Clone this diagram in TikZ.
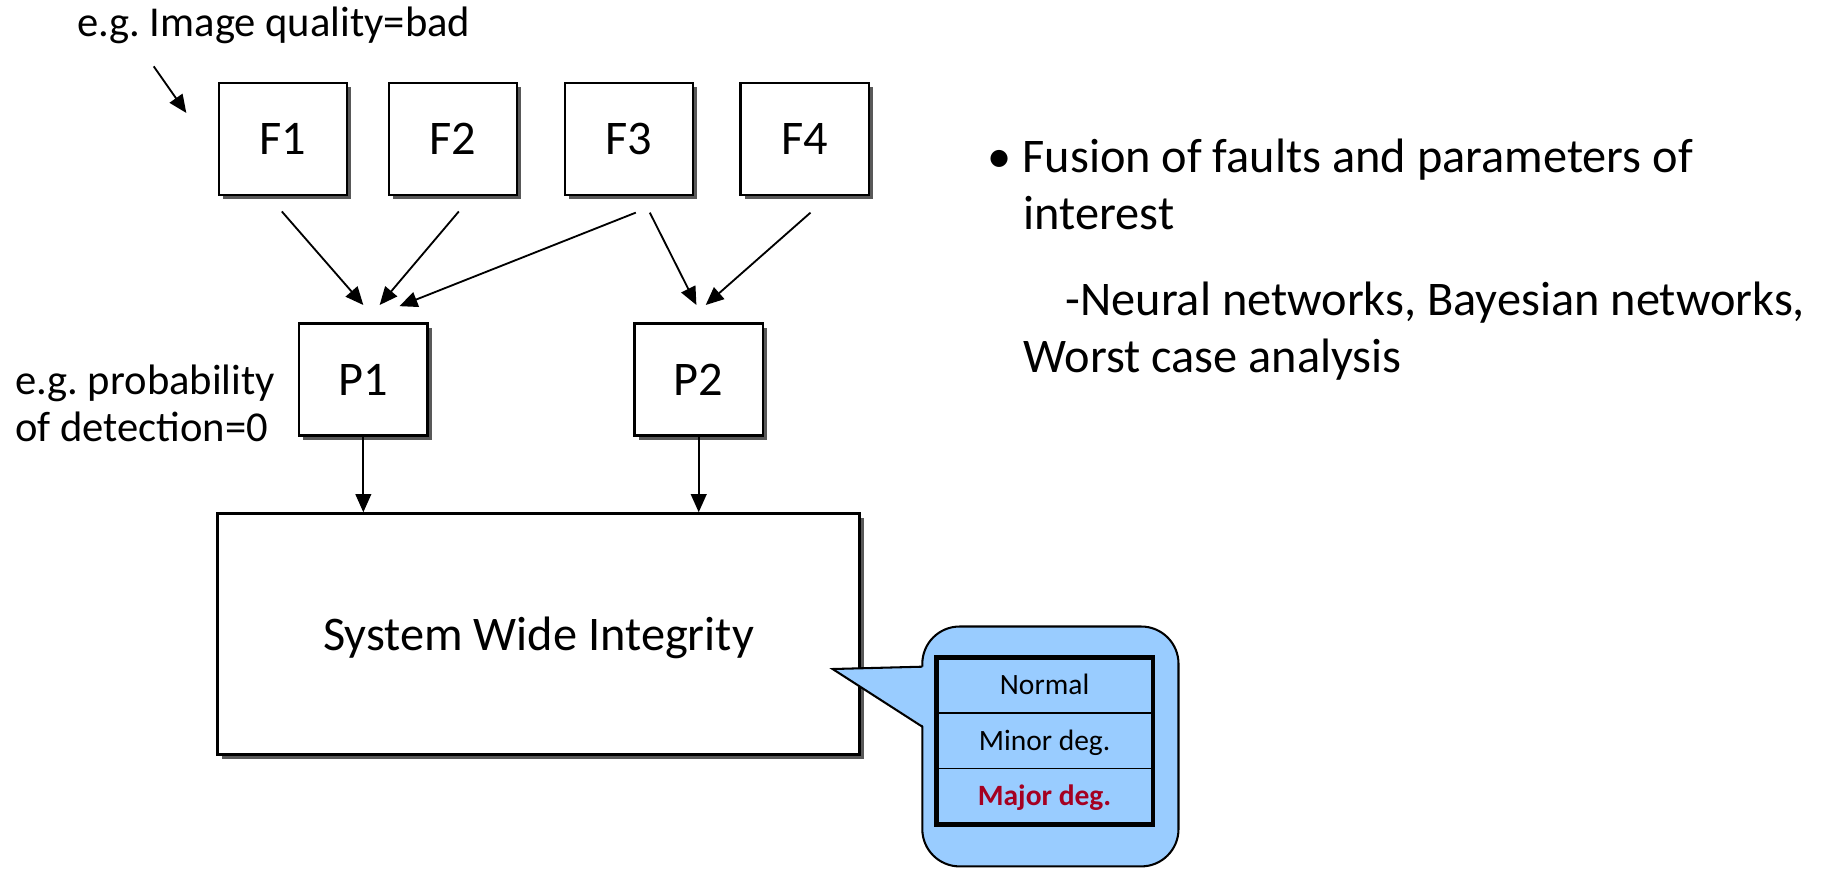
\documentclass[tikz,border=0pt]{standalone}
\usepackage{fontspec}
\setmainfont{Carlito}
\usepackage{xcolor}
\usepackage{tikz}
\usetikzlibrary{arrows.meta,shadows}
\usetikzlibrary{calc}
\usetikzlibrary{positioning}
\definecolor{bubble}{RGB}{153,204,255}
\definecolor{majred}{RGB}{165,0,33}
\frenchspacing

\begin{document}
\begin{tikzpicture}[x=0.01cm,y=-0.01cm,>={Triangle[length=4.4pt,width=3.8pt]},semithick]
  \tikzstyle{blk}=[draw, line width=0.6pt, fill=white, minimum width=1.1cm, minimum height=0.96cm, text depth=0pt, font=\fontsize{11.8}{14}\selectfont, drop shadow={shadow xshift=1pt, shadow yshift=-1pt, fill=black!65, opacity=1}]
  \tikzstyle{note}=[inner sep=0pt, font=\fontsize{10.4}{11.4}\selectfont]
  \tikzstyle{txt}=[inner sep=0pt, align=left, font=\fontsize{11.8}{14}\selectfont]
  \tikzstyle{cell}=[draw, line width=0.4pt, outer sep=0pt, inner sep=0pt, minimum width=1.86cm, minimum height=0.478cm, text height=4.5pt, text depth=0pt, font=\fontsize{7.2}{8}\selectfont]
  \tikzstyle{feed}=[->, line width=0.45pt]

  \useasboundingbox (0,0) rectangle (1568,746);

  % faults and parameters
  \foreach \n/\x in {1/243,2/389,3/540,4/691}
    \node[blk] (F\n) at (\x,119.5) {F\n};
  \node[blk] (P1) at (312,326) {P1};
  \node[blk] (P2) at (600,326) {P2};
  \node[blk, minimum width=5.51cm, minimum height=2.07cm] (SWI) at (462.5,544.5) {System Wide Integrity};

  \draw[feed] ($(F1.south)+(-1,13)$) -- ($(P1.north)+(0,-15)$);
  \draw[feed] ($(F2.south)+(5,13)$) -- ($(P1.north)+(14,-15)$);
  \draw[feed] ($(F3.south)+(6,14)$) -- ($(P1.north)+(31,-14)$);
  \draw[feed] ($(F3.south)+(18,14)$) -- ($(P2.north)+(-2,-15)$);
  \draw[feed] ($(F4.south)+(5,14)$) -- ($(P2.north)+(6,-15)$);
  \draw[feed] (P1.south) -- (P1.south |- SWI.north);
  \draw[feed] (P2.south) -- (P2.south |- SWI.north);

  % notes
  \node[note, anchor=base] (imgq) at (235,31) {e.g. Image quality=bad};
  \coordinate (imgfrom) at (132,57);
  \coordinate (imgto) at (160,97);
  \draw[feed] (imgfrom) -- (imgto);
  \node[note, anchor=base west, align=left] (prob) at (12,379) {e.g. probability\\of detection=0};

  \node[txt, anchor=base west] (fus) at (847,197) {• Fusion of faults and parameters of\\\hspace*{0.31cm}interest};
  \node[txt, anchor=base west] (nets) at (878,320) {\hspace*{0.36cm}-Neural networks, Bayesian networks,\\Worst case analysis};

  % callout with levels
  \coordinate (tip) at (715,574.5);
  \draw[fill=bubble, line width=0.5pt, rounded corners=0.32cm] (792,538) rectangle (1012,744);
  \fill[bubble] (794,572.5) -- (tip) -- (794,624) -- cycle;
  \draw[line width=0.5pt] (792,572.5) -- (tip) -- (792,624);

  \node[cell] (nrm) at (897,588.3) {Normal};
  \node[cell, below=0pt of nrm] (mnr) {Minor deg.};
  \node[cell, below=0pt of mnr, text=majred, font=\fontsize{7.2}{8}\selectfont\bfseries] (maj) {Major deg.};
  \draw[line width=1.2pt] (nrm.north west) rectangle (maj.south east);
\end{tikzpicture}
\end{document}
